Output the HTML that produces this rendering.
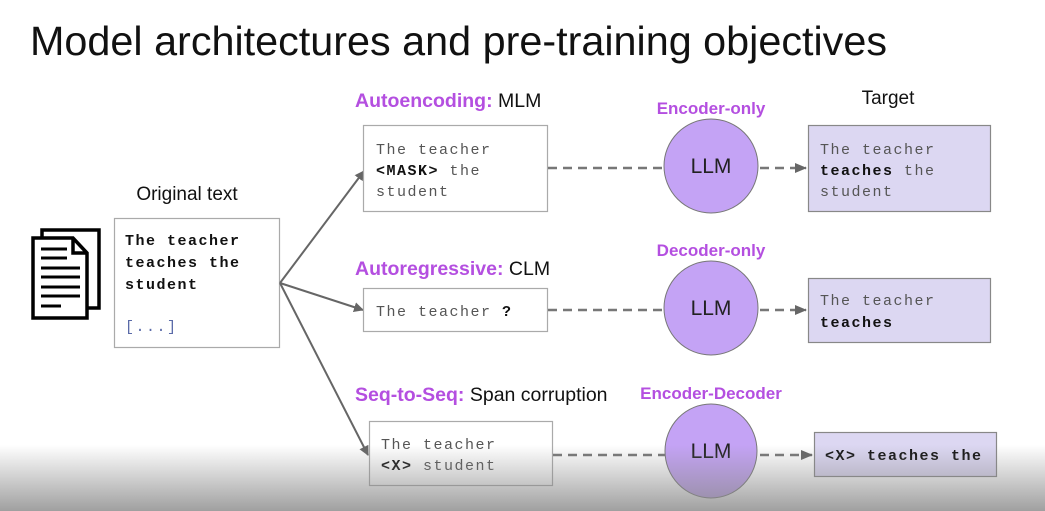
<!DOCTYPE html>
<html><head><meta charset="utf-8"><style>
html,body{margin:0;padding:0;background:#fff;}
body{width:1045px;height:511px;overflow:hidden;position:relative;}
svg{position:absolute;left:0;top:0;}
.sans{font-family:"Liberation Sans",sans-serif;}
.mono{font-family:"Liberation Mono",monospace;font-size:15px;letter-spacing:1.5px;}
.p{fill:#b44fe0;font-weight:bold;}
</style></head><body>
<svg width="1045" height="511" viewBox="0 0 1045 511" xmlns="http://www.w3.org/2000/svg">
<defs>
<marker id="ah" markerWidth="10" markerHeight="10" refX="9" refY="5" orient="auto" markerUnits="userSpaceOnUse"><path d="M0,0 L10,5 L0,10 z" fill="#666"/></marker>
<marker id="ah2" markerWidth="12" markerHeight="12" refX="11" refY="6" orient="auto" markerUnits="userSpaceOnUse"><path d="M0,1 L12,6 L0,11 z" fill="#666"/></marker>
<linearGradient id="g" x1="0" y1="0" x2="0" y2="1"><stop offset="0" stop-color="#888" stop-opacity="0"/><stop offset="1" stop-color="#888" stop-opacity="0.8"/></linearGradient>
</defs>
<text x="30" y="55" class="sans" font-size="41" fill="#111" textLength="857" lengthAdjust="spacingAndGlyphs">Model architectures and pre-training objectives</text>

<g fill="#fff" stroke="#000" stroke-width="3.5">
<rect x="42" y="230" width="57" height="78"/>
<path d="M33,238 L73,238 L87,253 L87,318 L33,318 z"/>
<path d="M73,238 L73,253 L87,253" fill="none"/>
</g>
<g stroke="#000" stroke-width="3">
<line x1="41" y1="249" x2="67" y2="249"/><line x1="41" y1="258" x2="67" y2="258"/>
<line x1="41" y1="268" x2="80" y2="268"/><line x1="41" y1="277" x2="80" y2="277"/>
<line x1="41" y1="287" x2="80" y2="287"/><line x1="41" y1="296" x2="80" y2="296"/>
<line x1="41" y1="306" x2="61" y2="306"/>
</g>

<text x="187" y="200" class="sans" font-size="19" text-anchor="middle" fill="#111">Original text</text>
<rect x="114.5" y="218.5" width="165" height="129" fill="#fff" stroke="#aaa" stroke-width="1.2"/>
<text class="mono" font-weight="bold" fill="#111"><tspan x="125" y="245">The teacher</tspan><tspan x="125" y="267">teaches the</tspan><tspan x="125" y="289">student</tspan></text>
<text x="125" y="331" class="mono" fill="#5a6aa8">[...]</text>

<g stroke="#666" stroke-width="2" fill="none">
<line x1="280" y1="283" x2="364" y2="171" marker-end="url(#ah)"/>
<line x1="280" y1="283" x2="363" y2="310" marker-end="url(#ah)"/>
<line x1="280" y1="283" x2="368" y2="455" marker-end="url(#ah)"/>
</g>

<text x="355" y="107" class="sans" font-size="19.5"><tspan class="p">Autoencoding:</tspan><tspan fill="#111"> MLM</tspan></text>
<rect x="363.5" y="125.5" width="184" height="86" fill="#fff" stroke="#aaa" stroke-width="1.2"/>
<text class="mono" fill="#555"><tspan x="376" y="154">The teacher</tspan><tspan x="376" y="175"><tspan font-weight="bold" fill="#111">&lt;MASK&gt;</tspan> the</tspan><tspan x="376" y="196">student</tspan></text>

<text x="355" y="275" class="sans" font-size="19.5"><tspan class="p">Autoregressive:</tspan><tspan fill="#111"> CLM</tspan></text>
<rect x="363.5" y="288.5" width="184" height="43" fill="#fff" stroke="#aaa" stroke-width="1.2"/>
<text x="376" y="316" class="mono" fill="#555">The teacher <tspan font-weight="bold" fill="#111">?</tspan></text>

<text x="355" y="401" class="sans" font-size="19.5"><tspan class="p">Seq-to-Seq:</tspan><tspan fill="#111"> Span corruption</tspan></text>
<rect x="369.5" y="421.5" width="183" height="64" fill="#fff" stroke="#aaa" stroke-width="1.2"/>
<text class="mono" fill="#555"><tspan x="381" y="449">The teacher</tspan><tspan x="381" y="470"><tspan font-weight="bold" fill="#111">&lt;X&gt;</tspan> student</tspan></text>

<g stroke="#777" stroke-width="2.5" stroke-dasharray="9,6" fill="none">
<line x1="548" y1="168" x2="664" y2="168"/>
<line x1="548" y1="310" x2="664" y2="310"/>
<line x1="553" y1="455" x2="665" y2="455"/>
<line x1="760" y1="168" x2="806" y2="168" marker-end="url(#ah2)"/>
<line x1="760" y1="310" x2="806" y2="310" marker-end="url(#ah2)"/>
<line x1="760" y1="455" x2="812" y2="455" marker-end="url(#ah2)"/>
</g>

<g fill="#c4a3f5" stroke="#777" stroke-width="1">
<circle cx="711" cy="166" r="47"/>
<circle cx="711" cy="308" r="47"/>
<ellipse cx="711" cy="451" rx="46" ry="47"/>
</g>
<g class="sans" font-size="21" fill="#222" text-anchor="middle">
<text x="711" y="173">LLM</text><text x="711" y="315">LLM</text><text x="711" y="458">LLM</text>
</g>
<g class="sans p" font-size="17" text-anchor="middle">
<text x="711" y="114">Encoder-only</text>
<text x="711" y="256">Decoder-only</text>
<text x="711" y="399">Encoder-Decoder</text>
</g>

<text x="888" y="104" class="sans" font-size="19" text-anchor="middle" fill="#111">Target</text>
<g fill="#dcd7f2" stroke="#888" stroke-width="1.2">
<rect x="808.5" y="125.5" width="182" height="86"/>
<rect x="808.5" y="278.5" width="182" height="64"/>
<rect x="814.5" y="432.5" width="182" height="44"/>
</g>
<text class="mono" fill="#555"><tspan x="820" y="154">The teacher</tspan><tspan x="820" y="175"><tspan font-weight="bold" fill="#111">teaches</tspan> the</tspan><tspan x="820" y="196">student</tspan></text>
<text class="mono" fill="#555"><tspan x="820" y="305">The teacher</tspan><tspan x="820" y="327" font-weight="bold" fill="#111">teaches</tspan></text>
<text x="825" y="460" class="mono" font-weight="bold" fill="#111">&lt;X&gt; teaches the</text>

<rect x="0" y="445" width="1045" height="66" fill="url(#g)"/>
</svg>
</body></html>
